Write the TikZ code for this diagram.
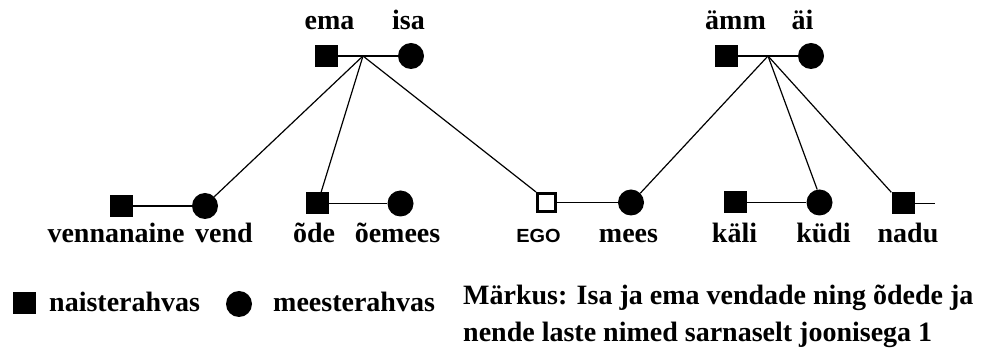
\documentclass[tikz,border=0pt]{standalone}
\usepackage{fontspec}
\setmainfont{Liberation Serif}
\newfontfamily\egofont{Liberation Sans}
\begin{document}
\begin{tikzpicture}[x=1pt,y=-1pt,
  fem/.style={fill=black,minimum width=23pt,minimum height=22pt,inner sep=0pt},
  male/.style={circle,fill=black,minimum size=26pt,inner sep=0pt},
  egobox/.style={draw=black,line width=3pt,fill=white,minimum size=18pt,inner sep=0pt},
  lbl/.style={font=\fontsize{28}{30}\selectfont\bfseries,anchor=base,inner sep=0pt},
  link/.style={line width=1.2pt}]
\useasboundingbox (0,0) rectangle (989,352);
% parents
\node[fem] (ema) at (326.5,56) {};
\node[male] (isa) at (411,56) {};
\coordinate (j1) at (363,56);
\node[fem] (amm) at (726.5,56) {};
\node[male] (ai) at (811,56) {};
\coordinate (j2) at (768,56);
% children row
\node[fem] (vn) at (121,206) {};
\node[male] (vend) at (205,206) {};
\node[fem] (ode) at (317,203.5) {};
\node[male] (oem) at (400.5,203.5) {};
\node[egobox] (ego) at (546.5,202.5) {};
\node[male] (mees) at (631,202.5) {};
\node[fem] (kali) at (735,202.5) {};
\node[male] (kudi) at (819.5,202.5) {};
\node[fem] (nadu) at (903,203.5) {};
\coordinate (nend) at (935,203.5);
% marriage lines
\draw[link] (ema) -- (isa);
\draw[link] (amm) -- (ai);
\draw[link] (vn) -- (vend);
\draw[link] (ode) -- (oem);
\draw[link] (ego) -- (mees);
\draw[link] (kali) -- (kudi);
\draw[link] (nadu) -- (nend);
% descent lines
\draw[link] (j1) -- (vend.north east);
\draw[link] (j1) -- (ode.70);
\draw[link] (j1) -- (ego.north west);
\draw[link] (j2) -- (mees.north east);
\draw[link] (j2) -- (kudi.100);
\draw[link] (j2) -- (nadu.north west);
% labels
\node[lbl] (tema) at (329.5,30) {ema};
\node[lbl] (tisa) at (408.5,30) {isa};
\node[lbl] (tamm) at (735.5,30) {ämm};
\node[lbl] (tai) at (802.5,30) {äi};
\node[lbl] (tvn) at (116,243) {vennanaine};
\node[lbl] (tvend) at (224,243) {vend};
\node[lbl] (tode) at (314,243) {õde};
\node[lbl] (toem) at (397.5,243) {õemees};
\node[anchor=base,inner sep=0pt,font=\egofont\bfseries\fontsize{19}{21}\selectfont] (tego) at (538.5,243) {\scalebox{1.05}[1]{EGO}};
\node[lbl] (tmees) at (628.5,243) {mees};
\node[lbl] (tkali) at (734.5,243) {käli};
\node[lbl] (tkudi) at (823.5,243) {küdi};
\node[lbl] (tnadu) at (908,243) {nadu};
% legend
\node[fem] (lf) at (24.5,303) {};
\node[lbl,anchor=base west] (lft) at (49,312) {naisterahvas};
\node[male] (lm) at (239,304) {};
\node[lbl,anchor=base west] (lmt) at (273,312) {meesterahvas};
\node[lbl,anchor=base west] (note1) at (463,305) {Märkus: Isa ja ema vendade ning õdede ja};
\node[lbl,anchor=base west] (note2) at (463,342) {nende laste nimed sarnaselt joonisega 1};
\end{tikzpicture}
\end{document}
